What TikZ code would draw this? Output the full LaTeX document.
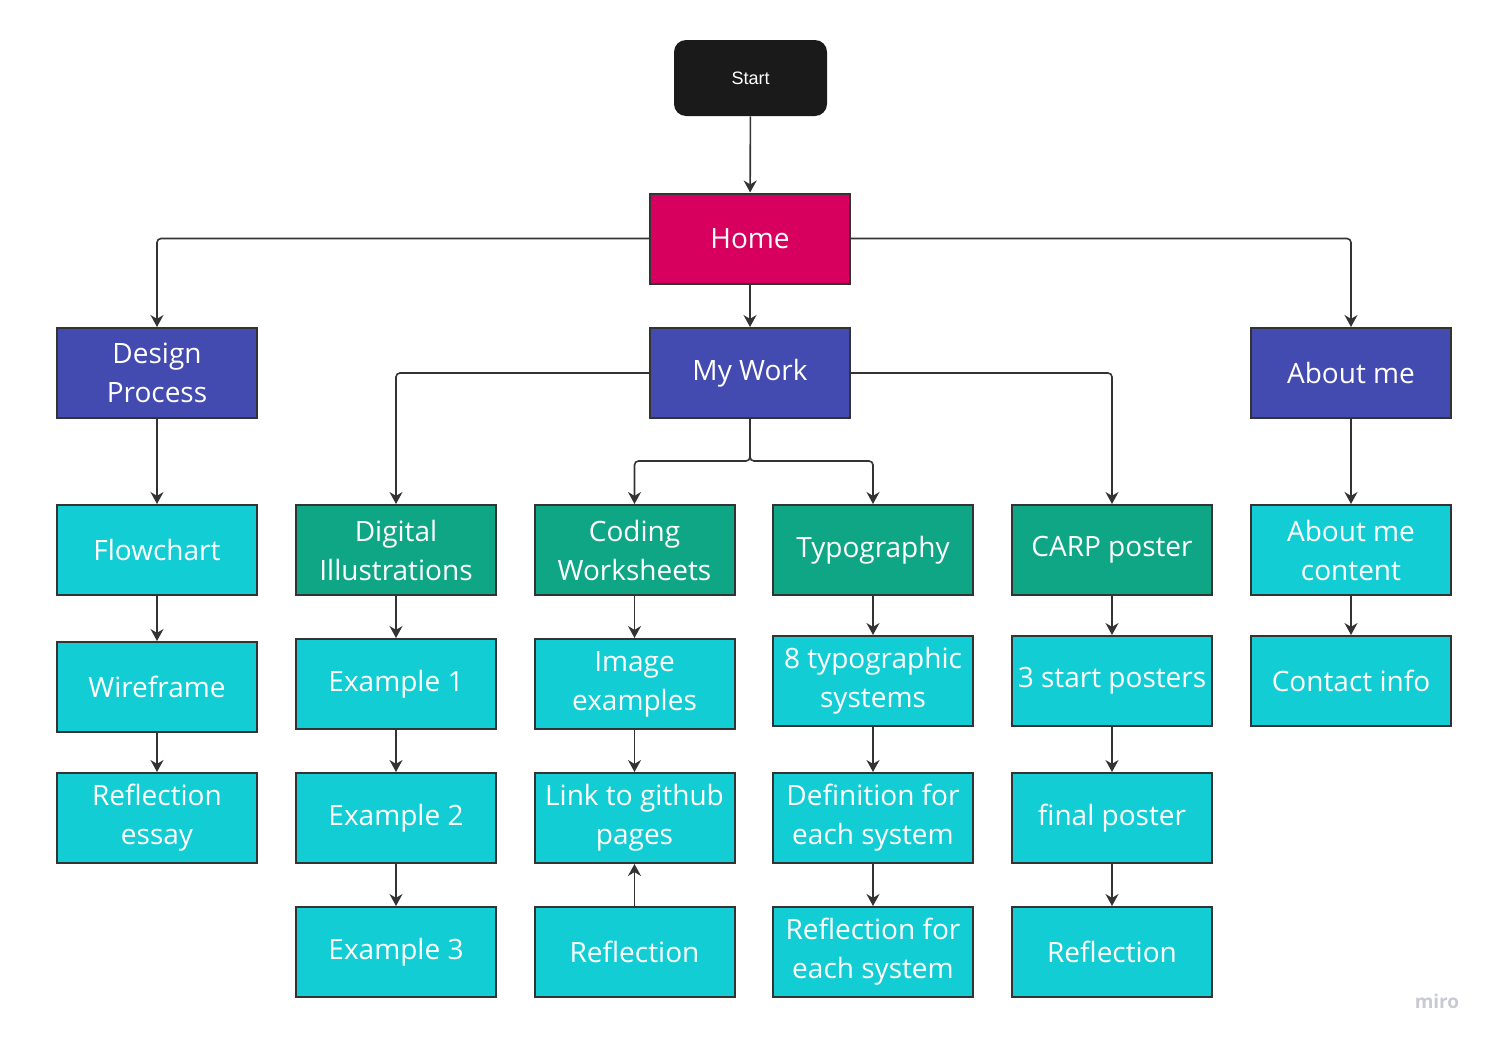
\documentclass[tikz,border=0pt]{standalone}
\usepackage{fontspec}
\setmainfont{Open Sans}
\newfontfamily\startfont{Liberation Sans}
\usepackage{xcolor}
\usetikzlibrary{arrows.meta}
\definecolor{homeRed}{HTML}{D8005F}
\definecolor{navBlue}{HTML}{434AB0}
\definecolor{workGreen}{HTML}{0FA686}
\definecolor{pageCyan}{HTML}{13CDD4}
\definecolor{lineGray}{HTML}{333333}
\definecolor{startBlack}{HTML}{1A1A1A}
\definecolor{miroGray}{HTML}{C8CAD3}

\begin{document}
\begin{tikzpicture}[x=0.5pt,y=-0.5pt,
    box/.style={draw=lineGray,line width=1pt,minimum width=100pt,minimum height=45pt,
      inner sep=0pt,align=center,text=white,font=\fontsize{14}{19.5}\selectfont},
    navbox/.style={box,fill=navBlue},
    workbox/.style={box,fill=workGreen},
    pagebox/.style={box,fill=pageCyan},
    conn/.style={draw=lineGray,line width=0.8pt,-{Stealth[length=6pt,width=6.5pt]},
      rounded corners=2pt}]
            \useasboundingbox (0,0) rectangle (1495,1044);

            \node[fill=startBlack,rounded corners=6pt,minimum width=76.5pt,minimum height=38pt,
              text=white,font=\startfont\fontsize{9}{11}\selectfont] (start) at (750.5,78) {Start};
            \node[box,fill=homeRed] (home) at (750,238.5) {Home};

            \node[navbox] (design) at (157,373) {Design\\Process};
            \node[navbox] (mywork) at (750,373) {My Work};
            \node[navbox] (about) at (1351,373) {About me};

            \node[pagebox] (flow) at (157,550) {Flowchart};
            \node[workbox] (digital) at (396,550) {Digital\\Illustrations};
            \node[workbox] (coding) at (634.5,550) {Coding\\Worksheets};
            \node[workbox] (typo) at (873,550) {Typography};
            \node[workbox] (carp) at (1112,550) {CARP poster};
            \node[pagebox] (aboutc) at (1351,550) {About me\\content};

            \node[pagebox] (wire) at (157,687) {Wireframe};
            \node[pagebox] (exone) at (396,684) {Example 1};
            \node[pagebox] (images) at (634.5,684) {Image\\examples};
            \node[pagebox] (eight) at (873,681) {8 typographic\\systems};
            \node[pagebox] (startp) at (1112,681) {3 start posters};
            \node[pagebox] (contact) at (1351,681) {Contact info};

            \node[pagebox] (essay) at (157,818) {Reflection\\essay};
            \node[pagebox] (extwo) at (396,818) {Example 2};
            \node[pagebox] (github) at (634.5,818) {Link to github\\pages};
            \node[pagebox] (defin) at (873,818) {Definition for\\each system};
            \node[pagebox] (final) at (1112,818) {final poster};

            \node[pagebox] (exthree) at (396,952) {Example 3};
            \node[pagebox] (reflcode) at (634.5,952) {Reflection};
            \node[pagebox] (reflsys) at (873,952) {Reflection for\\each system};
            \node[pagebox] (reflcarp) at (1112,952) {Reflection};

            \node[text=miroGray,font=\bfseries\fontsize{9.5}{11}\selectfont] (miro) at (1437,1001) {miro};

            \coordinate (split) at (750,461);

            \draw[conn] (start) -- (home);
            \draw[conn] (home.west) -| (design);
            \draw[conn] (home.east) -| (about);
            \draw[conn] (home) -- (mywork);
            \draw[conn] (mywork.west) -| (digital);
            \draw[conn] (mywork.east) -| (carp);
            \draw[conn] (mywork) -- (split) -| (coding);
            \draw[conn] (mywork) -- (split) -| (typo);

            \draw[conn] (design) -- (flow);
            \draw[conn] (flow) -- (wire);
            \draw[conn] (wire) -- (essay);
            \draw[conn] (digital) -- (exone);
            \draw[conn] (exone) -- (extwo);
            \draw[conn] (extwo) -- (exthree);
            \draw[conn] (coding) -- (images);
            \draw[conn] (images) -- (github);
            \draw[conn] (reflcode) -- (github);
            \draw[conn] (typo) -- (eight);
            \draw[conn] (eight) -- (defin);
            \draw[conn] (defin) -- (reflsys);
            \draw[conn] (carp) -- (startp);
            \draw[conn] (startp) -- (final);
            \draw[conn] (final) -- (reflcarp);
            \draw[conn] (about) -- (aboutc);
            \draw[conn] (aboutc) -- (contact);
        \end{tikzpicture}
\end{document}
